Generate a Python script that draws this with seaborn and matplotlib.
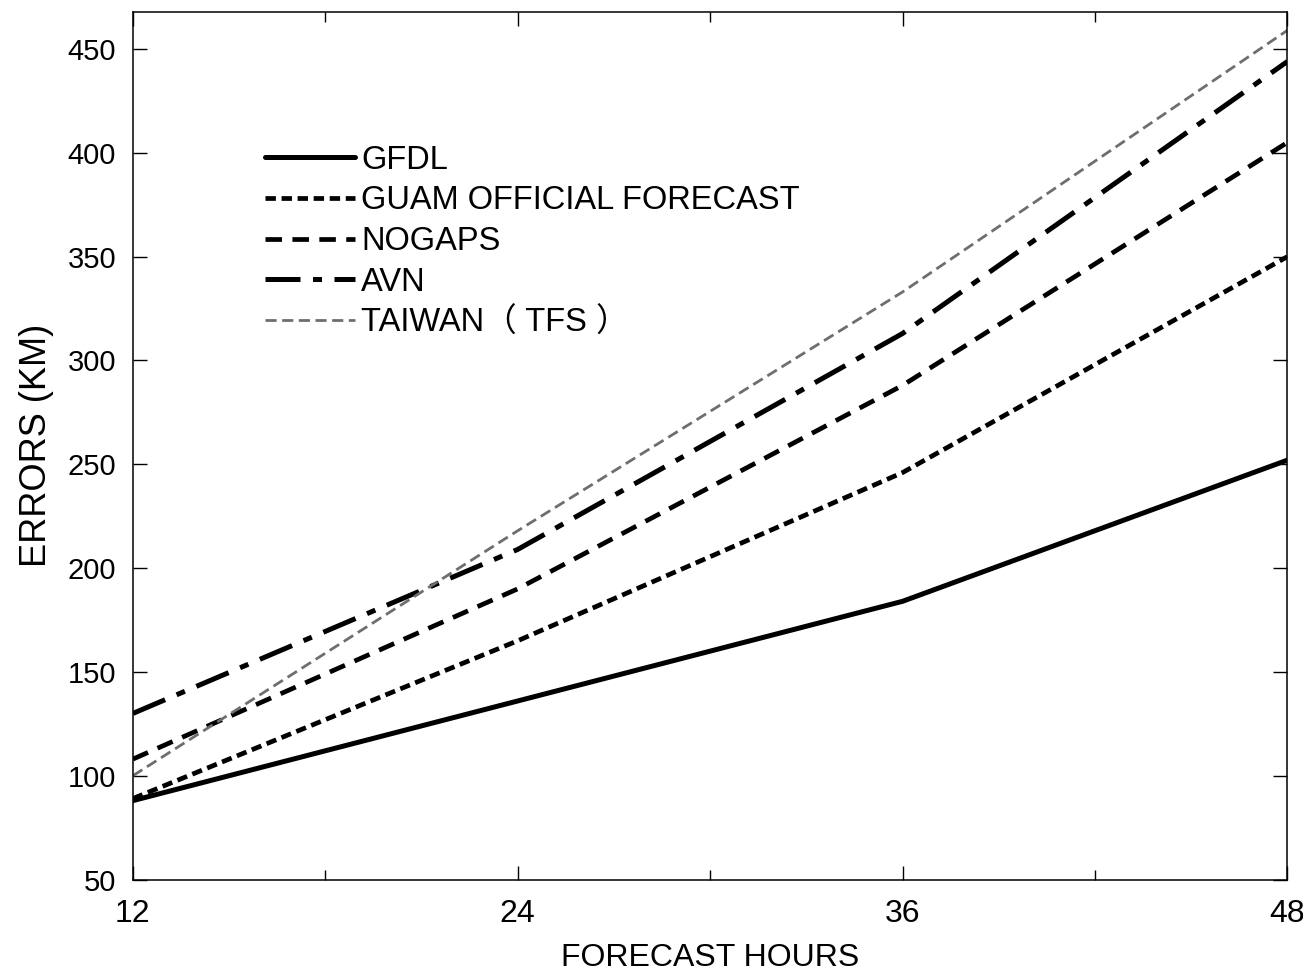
import pandas as pd
import seaborn as sns
import matplotlib.pyplot as plt
from matplotlib.ticker import MultipleLocator, FixedLocator

# forecast hours and mean track errors (km)
hours = [12, 24, 36, 48]
gfdl = [88, 136, 184, 252]
guam = [89, 165, 246, 350]
nogaps = [108, 190, 288, 405]
avn = [130, 209, 313, 444]
taiwan = [100, 218, 333, 459]

model_names = ["GFDL", "GUAM OFFICIAL FORECAST", "NOGAPS", "AVN", "TAIWAN（ TFS ）"]
series = [gfdl, guam, nogaps, avn, taiwan]

# line look per model: (linestyle, linewidth, colour)
line_styles = {
    "GFDL": ("-", 3.6, "black"),
    "GUAM OFFICIAL FORECAST": ((0, (2.2, 1.2)), 3.4, "black"),
    "NOGAPS": ((0, (3.5, 2.2)), 3.4, "black"),
    "AVN": ((0, (7, 2.5, 1.8, 2.5)), 3.6, "black"),
    "TAIWAN（ TFS ）": ((0, (4, 2)), 2.0, "#6e6e6e"),
}

rows = []
for name, vals in zip(model_names, series):
    for h, v in zip(hours, vals):
        rows.append({"hours": h, "error": v, "model": name})
df = pd.DataFrame(rows)

sns.set_style("ticks")
plt.rcParams["font.family"] = ["Liberation Sans", "DejaVu Sans"]
plt.rcParams["text.color"] = "black"
plt.rcParams["axes.labelcolor"] = "black"
plt.rcParams["xtick.color"] = "black"
plt.rcParams["ytick.color"] = "black"

fig = plt.figure(figsize=(13.03, 9.74), dpi=100)
ax = fig.add_axes([0.102, 0.097, 0.886, 0.891])

for name in model_names:
    ls, lw, col = line_styles[name]
    sns.lineplot(
        data=df[df["model"] == name],
        x="hours",
        y="error",
        color=col,
        linestyle=ls,
        linewidth=lw,
        label=name,
        ax=ax,
    )

ax.set_xlim(12, 48)
ax.set_ylim(50, 468)
ax.xaxis.set_major_locator(FixedLocator([12, 24, 36, 48]))
ax.xaxis.set_minor_locator(FixedLocator([18, 30, 42]))
ax.yaxis.set_major_locator(MultipleLocator(50))

ax.tick_params(which="both", direction="in", top=True, right=True, width=1.0)
ax.tick_params(which="major", length=10)
ax.tick_params(which="minor", length=7)
ax.tick_params(axis="y", labelsize=21, pad=12)
ax.tick_params(axis="x", labelsize=23, pad=14)
for lab in ax.get_xticklabels():
    lab.set_family(["Liberation Sans Narrow", "Liberation Sans"])

for sp in ax.spines.values():
    sp.set_linewidth(1.1)
    sp.set_color("black")

ax.set_xlabel("FORECAST HOURS", fontsize=23, labelpad=10,
              family=["Liberation Sans Narrow", "Liberation Sans"])
ax.set_ylabel("ERRORS (KM)", fontsize=26, labelpad=10)

leg = ax.legend(
    loc="upper left",
    bbox_to_anchor=(0.103, 0.862),
    frameon=False,
    fontsize=23.5,
    handlelength=2.75,
    handletextpad=0.2,
    labelspacing=0.3,
    borderaxespad=0,
)
for t in leg.get_texts():
    t.set_family(["Liberation Sans", "Noto Sans CJK SC", "DejaVu Sans"])

fig.savefig("out.png", dpi=100, facecolor="white")
